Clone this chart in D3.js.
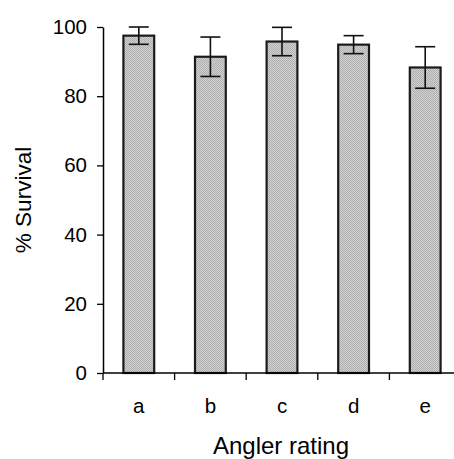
<!DOCTYPE html>
<html><head><meta charset="utf-8">
<script src="https://cdn.jsdelivr.net/npm/d3@7"></script>
<style>body{margin:0;background:#fff}svg{display:block}</style>
</head><body>
<script>
const categories = ["a","b","c","d","e"];
const values = [97.5, 91.4, 95.8, 94.9, 88.3];
const errors = [2.5, 5.7, 4.1, 2.6, 6.0];
const yTicks = [0,20,40,60,80,100];

const W = 454, H = 459;
const svg = d3.select("body").append("svg").attr("width", W).attr("height", H);
const defs = svg.append("defs");
const pat = defs.append("pattern").attr("id","chk").attr("width",2).attr("height",2).attr("patternUnits","userSpaceOnUse");
pat.append("rect").attr("width",2).attr("height",2).attr("fill","#d0d0d0");
pat.append("rect").attr("width",1).attr("height",1).attr("fill","#b0b0b0");
pat.append("rect").attr("x",1).attr("y",1).attr("width",1).attr("height",1).attr("fill","#b0b0b0");

const x = d3.scaleBand().domain(categories).range([103, 461]).paddingInner(0.57).paddingOuter(0.285);
const y = d3.scaleLinear().domain([0,100]).range([373, 27]);
const font = "Liberation Sans, Arial, sans-serif";

// bars
svg.selectAll("rect.bar").data(categories).enter().append("rect")
  .attr("class","bar")
  .attr("x", d => x(d)).attr("width", x.bandwidth())
  .attr("y", (d,i) => y(values[i])).attr("height", (d,i) => y(0) - y(values[i]))
  .attr("fill","url(#chk)").attr("stroke","#1a1a1a").attr("stroke-width",2.2);

// error bars
const eg = svg.append("g").attr("stroke","#111").attr("stroke-width",1.6);
categories.forEach((c,i) => {
  const cx = x(c) + x.bandwidth()/2;
  const hi = values[i]+errors[i], lo = values[i]-errors[i];
  eg.append("line").attr("x1",cx).attr("x2",cx).attr("y1",y(hi)).attr("y2",y(lo));
  eg.append("line").attr("x1",cx-10).attr("x2",cx+10).attr("y1",y(hi)).attr("y2",y(hi));
  eg.append("line").attr("x1",cx-10).attr("x2",cx+10).attr("y1",y(lo)).attr("y2",y(lo));
});

// y axis
const ya = svg.append("g").attr("transform","translate(103,0)")
  .call(d3.axisLeft(y).tickValues(yTicks).tickSize(6).tickPadding(10).tickSizeOuter(0));
ya.select(".domain").attr("stroke","#000").attr("stroke-width",1.5);
ya.selectAll(".tick line").attr("stroke","#000").attr("stroke-width",1.3);
ya.selectAll(".tick text").attr("font-family",font).attr("font-size",20.5).attr("fill","#000");

// x axis
const xa = svg.append("g").attr("transform","translate(0,373)");
xa.append("line").attr("x1",103).attr("x2",W).attr("y1",0).attr("y2",0).attr("stroke","#000").attr("stroke-width",1.5);
const step = x.step();
xa.selectAll("line.t").data(categories).enter().append("line").attr("class","t")
  .attr("x1", d => x(d) + x.bandwidth()/2 - step/2).attr("x2", d => x(d) + x.bandwidth()/2 - step/2)
  .attr("y1",0).attr("y2",7).attr("stroke","#000").attr("stroke-width",1.3);
xa.selectAll("text").data(categories).enter().append("text")
  .attr("x", d => x(d) + x.bandwidth()/2).attr("y", 40)
  .attr("text-anchor","middle").attr("font-family",font).attr("font-size",20.5).text(d => d);

// titles
svg.append("text").attr("x",281).attr("y",454).attr("text-anchor","middle")
  .attr("font-family",font).attr("font-size",24).text("Angler rating");
svg.append("text").attr("transform","translate(31,200) rotate(-90)").attr("text-anchor","middle")
  .attr("font-family",font).attr("font-size",22.5).text("% Survival");
</script>
</body></html>
